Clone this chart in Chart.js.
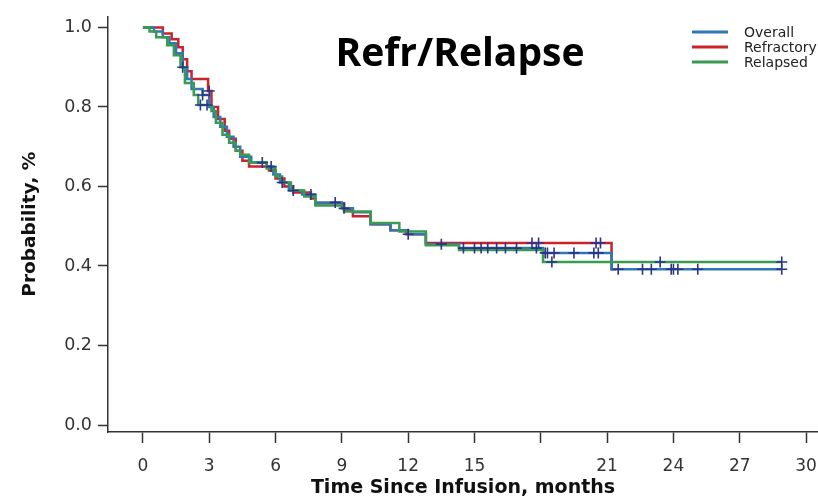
<!DOCTYPE html>
<html>
<head>
<meta charset="utf-8">
<script src="https://cdn.jsdelivr.net/npm/chart.js@4.4.1/dist/chart.umd.min.js"></script>
<style>
html,body{margin:0;padding:0;background:#fff;}
#wrap{width:818px;height:500px;position:relative;}
</style>
</head>
<body>
<div id="wrap"><canvas id="c" width="818" height="500"></canvas></div>
<script>
// ---- Data ----
const seriesNames = ["Overall", "Refractory", "Relapsed"];
const seriesColors = ["#2f78b8", "#cc2229", "#3a9a50"];
const censorColor = "#29358a";

// Step times (months) and survival probabilities
const overallTimes = [0, 0.5, 0.9, 1.2, 1.5, 1.8, 2.0, 2.2, 2.7, 3.0, 3.2, 3.5, 3.8, 4.1, 4.4, 4.9, 5.6, 5.9, 6.2, 6.6, 7.2, 7.8, 9.0, 9.5, 10.3, 11.2, 12.0, 12.8, 14.3, 18.1, 21.2, 28.9];
const overallProb  = [1.0, 0.99, 0.975, 0.96, 0.935, 0.90, 0.87, 0.845, 0.83, 0.80, 0.775, 0.75, 0.725, 0.70, 0.675, 0.66, 0.65, 0.63, 0.61, 0.59, 0.58, 0.56, 0.545, 0.535, 0.505, 0.49, 0.48, 0.455, 0.445, 0.433, 0.392, 0.392];

const refractoryTimes = [0, 0.9, 1.3, 1.6, 1.8, 2.0, 2.2, 2.95, 3.1, 3.4, 3.7, 3.9, 4.2, 4.5, 4.8, 5.7, 6.0, 6.4, 6.8, 7.6, 7.8, 9.1, 9.5, 10.3, 11.2, 11.9, 12.8, 21.2, 21.4];
const refractoryProb  = [1.0, 0.985, 0.97, 0.95, 0.92, 0.89, 0.87, 0.84, 0.80, 0.77, 0.74, 0.72, 0.69, 0.665, 0.65, 0.64, 0.62, 0.60, 0.585, 0.57, 0.558, 0.54, 0.525, 0.505, 0.49, 0.48, 0.458, 0.392, 0.392];

const relapsedTimes = [0, 0.3, 0.6, 1.1, 1.4, 1.7, 1.9, 2.3, 2.5, 3.1, 3.3, 3.6, 3.9, 4.2, 4.4, 4.8, 5.6, 6.0, 6.3, 6.7, 7.3, 7.8, 9.1, 10.3, 11.6, 12.8, 14.3, 18.1, 28.9];
const relapsedProb  = [1.0, 0.99, 0.975, 0.955, 0.93, 0.90, 0.86, 0.83, 0.805, 0.79, 0.76, 0.73, 0.71, 0.69, 0.68, 0.66, 0.645, 0.625, 0.61, 0.59, 0.575, 0.552, 0.537, 0.508, 0.487, 0.452, 0.440, 0.410, 0.410];

// Censoring times (months)
const overallCensor = [1.8, 2.7, 5.4, 5.8, 6.3, 6.8, 7.6, 8.7, 9.1, 12.0, 13.5, 14.5, 15.0, 15.3, 15.6, 16.0, 16.4, 16.9, 17.8, 18.2, 18.3, 18.6, 19.5, 20.4, 20.6, 21.5, 22.6, 23.0, 23.9, 24.0, 24.2, 25.1, 28.9];
const refractoryCensor = [3.0, 17.6, 17.9, 20.5, 20.7];
const relapsedCensor = [2.6, 2.9, 18.5, 23.4, 28.9];

const xTicks = [0, 3, 6, 9, 12, 15, 18, 21, 24, 27, 30];
const xTickLabels = ["0", "3", "6", "9", "12", "15", "", "21", "24", "27", "30"];
const yTicks = [0, 0.2, 0.4, 0.6, 0.8, 1.0];

const panelTitle = "Refr/Relapse";
const xTitle = "Time Since Infusion, months";
const yTitle = "Probability, %";

// ---- Build datasets ----
function pts(ts, ps) { return ts.map((t, i) => ({x: t, y: ps[i]})); }
function stepAt(ts, ps, t) {
  let v = ps[0];
  for (let i = 0; i < ts.length; i++) { if (ts[i] <= t) v = ps[i]; }
  return v;
}
function censorPts(cs, ts, ps) { return cs.map(t => ({x: t, y: stepAt(ts, ps, t)})); }

const curves = [
  {t: overallTimes, p: overallProb, c: overallCensor, order: 2},
  {t: refractoryTimes, p: refractoryProb, c: refractoryCensor, order: 3},
  {t: relapsedTimes, p: relapsedProb, c: relapsedCensor, order: 1}
];

const datasets = [];
curves.forEach((cv, i) => {
  datasets.push({
    type: 'line', label: seriesNames[i], data: pts(cv.t, cv.p),
    stepped: true, borderColor: seriesColors[i], borderWidth: 2.5,
    pointRadius: 0, fill: false, order: cv.order + 1
  });
});
curves.forEach((cv, i) => {
  datasets.push({
    type: 'scatter', label: seriesNames[i] + ' censored', data: censorPts(cv.c, cv.t, cv.p),
    pointStyle: 'cross', pointRadius: 5.5, pointBorderWidth: 1.6,
    borderColor: censorColor, backgroundColor: censorColor, order: 0
  });
});

const FONT = "'DejaVu Sans', 'Liberation Sans', Arial, sans-serif";

const overlay = {
  id: 'overlay',
  afterDraw(chart) {
    const ctx = chart.ctx;
    ctx.save();
    ctx.fillStyle = '#000';
    ctx.font = "bold 39px 'Open Sans', Lato, sans-serif";
    ctx.textAlign = 'center';
    ctx.textBaseline = 'middle';
    ctx.fillText(panelTitle, 460, 55);
    // legend
    ctx.font = "14px " + FONT;
    ctx.textAlign = 'left';
    seriesNames.forEach((n, i) => {
      const y = 32 + i * 15;
      ctx.strokeStyle = seriesColors[i];
      ctx.lineWidth = 3;
      ctx.beginPath(); ctx.moveTo(692, y); ctx.lineTo(728, y); ctx.stroke();
      ctx.fillStyle = '#222';
      ctx.fillText(n, 744, y + 1);
    });
    ctx.restore();
  }
};

const zeroPad = () => ({left: 0, top: 0, right: 0, bottom: 0});

new Chart(document.getElementById('c'), {
  data: {datasets},
  options: {
    responsive: false, animation: false, devicePixelRatio: 1,
    layout: {autoPadding: false, padding: {top: 14, right: 0, left: 0, bottom: 0}},
    plugins: {legend: {display: false}, tooltip: {enabled: false}},
    scales: {
      x: {
        type: 'linear', min: -1.58, max: 30.54,
        afterFit(s) { s.height = 68; s.paddingLeft = 0; s.paddingRight = 0; s.getPadding = zeroPad; },
        afterBuildTicks(s) { s.ticks = xTicks.map(v => ({value: v})); },
        ticks: {
          autoSkip: false, maxRotation: 0, padding: 13, color: '#333',
          font: {family: FONT, size: 17},
          callback(v) { const i = xTicks.indexOf(v); return i >= 0 ? xTickLabels[i] : ''; }
        },
        grid: {drawOnChartArea: false, drawTicks: true, tickLength: 11, color: '#333', tickWidth: 1.5},
        border: {display: true, color: '#333', width: 1.5},
        title: {display: true, text: xTitle, color: '#111', font: {family: FONT, size: 19, weight: 'bold'}, padding: {top: 0, bottom: 1}}
      },
      y: {
        type: 'linear', min: -0.0175, max: 1.0275,
        afterFit(s) { s.width = 108; },
        afterBuildTicks(s) { s.ticks = yTicks.map(v => ({value: v})); },
        ticks: {
          padding: 6, color: '#333', font: {family: FONT, size: 17.5},
          callback(v) { return v.toFixed(1); }
        },
        grid: {drawOnChartArea: false, drawTicks: true, tickLength: 10, color: '#333', tickWidth: 1.5},
        border: {display: true, color: '#333', width: 1.5},
        title: {display: true, text: yTitle, color: '#111', font: {family: FONT, size: 18.5, weight: 'bold'}, padding: {top: 19, bottom: 0}}
      }
    }
  },
  plugins: [overlay]
});
</script>
</body>
</html>
